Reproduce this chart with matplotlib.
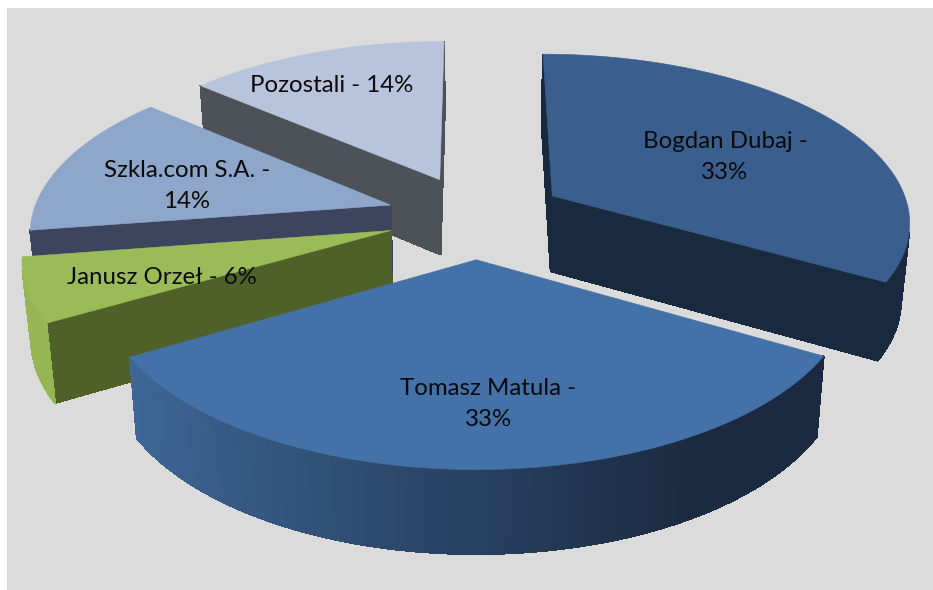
#! /usr/bin/env python
import numpy as np
import matplotlib
matplotlib.use('Agg')
import matplotlib.pyplot as plt
from matplotlib.colors import to_rgb

names = ['Bogdan Dubaj', 'Tomasz Matula', 'Janusz Orzeł', 'Szkla.com S.A.', 'Pozostali']
values = [33.3, 33.3, 6.0, 13.7, 13.7]
shown = ['33%', '33%', '6%', '14%', '14%']
top_colors = ['#3a5f8e', '#4472a8', '#9bbb59', '#8ea6ca', '#b8c3dc']
side_colors = ['#1a2a3e', '#1c2c42', '#4f6128', '#3c445e', '#4d5158']
arc_light = ['#1b2b40', '#3f6898', '#96b555', '#3c445e', '#6a6f78']
arc_dark = ['#1a2a3e', '#1b2a40', '#8fae50', '#3c445e', '#6a6f78']
draw_order = [4, 3, 0, 2, 1]
label_lines = [2, 2, 1, 2, 1]
label_xy = [(725, 157), (488, 404), (162, 278), (187, 186), (332, 85)]

# projection of the tilted pie, fitted by eye
cx, cy = 476, 216.5
rx, ry = 358.6, 167
persp = 0.14
explode = 0.25
depth = 76
squeeze = 0.98


def project(x, y):
    w = 1 + persp * y
    return cx + rx * x / w, cy - ry * y / w


def lower(px, py, y):
    w = 1 + persp * y
    return cx + (px - cx) * squeeze, py + depth / w ** 0.55


def area(q):
    x, y = np.array(q).T
    return 0.5 * np.sum(x * np.roll(y, -1) - np.roll(x, -1) * y)


def mix(a, b, t):
    return tuple((1 - t) * np.array(to_rgb(a)) + t * np.array(to_rgb(b)))


fig = plt.figure(figsize=(9.33, 5.9), dpi=100)
ax = fig.add_axes([0, 0, 1, 1])
ax.set_xlim(0, 933)
ax.set_ylim(590, 0)
ax.axis('off')
ax.fill([7, 933, 933, 7], [8, 8, 590, 590], color='#dbdbdb', lw=0)

ends = np.cumsum([0] + values) * 3.6
for i in draw_order:
    start, stop = ends[i], ends[i + 1]
    mid = np.radians((start + stop) / 2)
    ax0, ay0 = explode * np.sin(mid), explode * np.cos(mid)
    th = np.radians(np.linspace(start, stop, int(stop - start) * 2 + 2))
    wx = np.r_[ax0, ax0 + np.sin(th)]
    wy = np.r_[ay0, ay0 + np.cos(th)]
    n = len(wx)
    for j in range(n):
        k = (j + 1) % n
        a = project(wx[j], wy[j])
        b = project(wx[k], wy[k])
        quad = [a, b, lower(*b, wy[k]), lower(*a, wy[j])]
        if area(quad) >= 0:
            continue
        if j == 0 or k == 0:
            col = side_colors[i]
        else:
            t = np.clip((np.sin((th[j - 1] + th[k - 1]) / 2) + 0.9) / 1.4, 0, 1)
            col = mix(arc_light[i], arc_dark[i], t)
        qx, qy = zip(*quad)
        # no antialiasing here, the thin quads show seams otherwise
        ax.fill(qx, qy, color=col, lw=0.8, antialiased=False)
    tx, ty = project(wx, wy)
    ax.fill(tx, ty, color=top_colors[i], lw=0.4)

for name, val, nl, (x, y) in zip(names, shown, label_lines, label_xy):
    s = name + ' - ' + val if nl == 1 else name + ' -\n' + val
    ax.text(x, y, s, ha='center', va='center', family='Lato', fontsize=17.3,
            color='#0a0a0a', linespacing=1.55, multialignment='center')

fig.savefig('out.png', dpi=100)
